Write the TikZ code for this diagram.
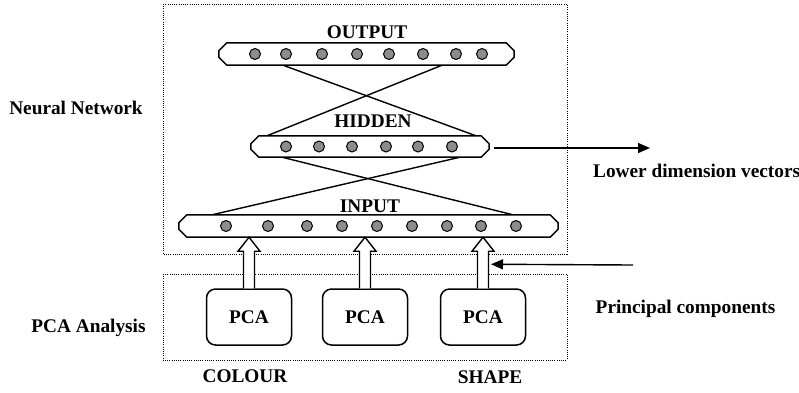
\documentclass[tikz,border=0pt]{standalone}
\usepackage{fontspec}
\setmainfont{Liberation Serif}
\usetikzlibrary{calc,arrows.meta}
\newcommand\chambar[1]{%
  \draw[barline] ($(#1.north west)+(8,0)$) -- ($(#1.north east)+(-8,0)$) -- ($(#1.north east)+(0,8)$)
    -- ($(#1.south east)+(0,-8)$) -- ($(#1.south east)+(-8,0)$) -- ($(#1.south west)+(8,0)$)
    -- ($(#1.south west)+(0,-8)$) -- ($(#1.north west)+(0,8)$) -- cycle;}
\newcommand\hollowup[2]{%
  \draw[hollow] ($(#1.north)+(-5.5,0)$) -- ($(#1.north |- #2.south)+(-5.5,14)$) -- ++(-5.5,0)
    -- (#1.north |- #2.south) -- ($(#1.north |- #2.south)+(11,14)$) -- ++(-5.5,0)
    -- ($(#1.north)+(5.5,0)$);}
\begin{document}
\begin{tikzpicture}[x=1pt,y=-1pt,
  lbl/.style={font=\fontsize{19.3}{22}\selectfont\bfseries, inner sep=0pt, anchor=base},
  barnode/.style={draw=none, inner sep=0pt, minimum height=#1},
  barline/.style={line width=1.5pt, fill=white},
  neuron/.style={circle, draw, line width=1pt, fill=black!45, minimum size=11pt, inner sep=0pt},
  conn/.style={line width=1.4pt},
  dotbox/.style={line width=1pt, dash pattern=on 1pt off 1.2pt},
  pcabox/.style={draw, line width=1.5pt, rounded corners=9pt, minimum width=85pt, minimum height=56pt, inner sep=0pt},
  hollow/.style={line width=1.4pt, fill=white, line join=miter},
  arr/.style={line width=1.4pt, -{Triangle[length=12pt,width=10pt]}}]
\useasboundingbox (0,0) rectangle (799,392);

% dotted group boxes
\draw[dotbox] (163,4) rectangle (567,254);
\draw[dotbox] (163,274) rectangle (567,360);

% layer bars
\node[barnode=22pt, minimum width=295pt] (out) at (366.5,54) {};
\node[barnode=21pt, minimum width=238pt] (hid) at (370,146.5) {};
\node[barnode=22pt, minimum width=379pt] (inp) at (368.5,226) {};

% connectors between layers
\draw[conn] (283,0 |- out.south) -- (476,0 |- hid.north);
\draw[conn] (442,0 |- out.south) -- (267,0 |- hid.north);
\draw[conn] (282,0 |- hid.south) -- (513,0 |- inp.north);
\draw[conn] (460,0 |- hid.south) -- (212,0 |- inp.north);

\chambar{out}
\chambar{hid}
\chambar{inp}

% neurons
\foreach \x [count=\i] in {255,286,322,357,389,423,456,482}
  \node[neuron] (o\i) at (\x,54) {};
\foreach \x [count=\i] in {286,319,352,386,418,452}
  \node[neuron] (h\i) at (\x,146.5) {};
\foreach \x [count=\i] in {226,268,307,342,377,412,447,481,516}
  \node[neuron] (n\i) at (\x,226) {};

% layer titles
\node[lbl] (tout) at (367,38) {OUTPUT};
\node[lbl] (thid) at (373,127) {HIDDEN};
\node[lbl] (tinp) at (370,212) {INPUT};

% PCA boxes
\node[pcabox] (p1) at (249,317) {};
\node[pcabox] (p2) at (365,317) {};
\node[pcabox] (p3) at (483,317) {};
\node[lbl] (t1) at (249,323) {PCA};
\node[lbl] (t2) at (365,323) {PCA};
\node[lbl] (t3) at (483,323) {PCA};

\hollowup{p1}{inp}
\hollowup{p2}{inp}
\hollowup{p3}{inp}

% side labels
\node[lbl] (nn) at (76,114) {Neural Network};
\node[lbl] (pa) at (88.5,332) {PCA Analysis};
\node[lbl] (col) at (245,382) {COLOUR};
\node[lbl] (shp) at (490,383) {SHAPE};
\node[lbl, anchor=base west] (ldv) at (593,177) {Lower dimension vectors};
\node[lbl] (pc) at (685.5,313) {Principal components};

% output arrows
\coordinate (ldvend) at (650,148);
\draw[arr] ($(hid.east)+(5,1.5)$) -- (ldvend);
\coordinate (pcstart) at (633,265);
\draw[arr] (pcstart) -- ($(p3.north)+(8,-24)$);
\end{tikzpicture}
\end{document}
